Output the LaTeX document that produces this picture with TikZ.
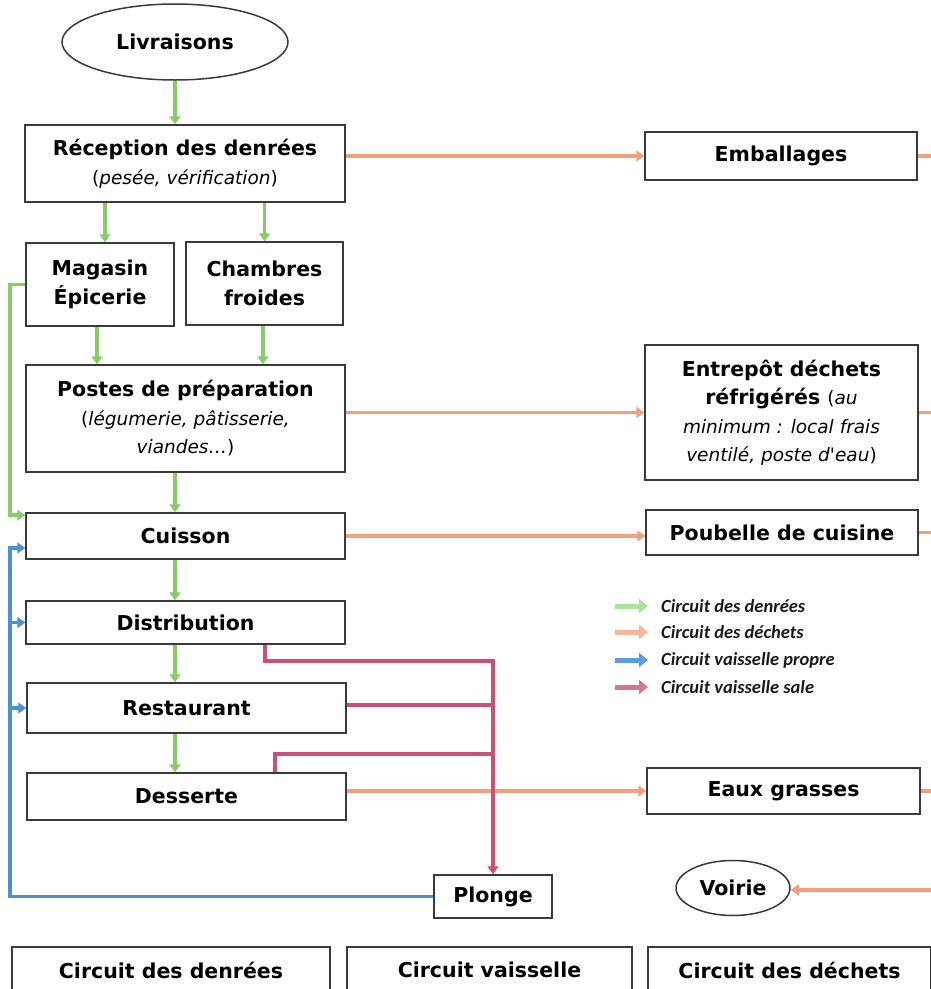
\documentclass[tikz,border=0pt]{standalone}
\usepackage{fontspec}
\setmainfont{DejaVu Sans}[Ligatures=TeXOff]
\newfontfamily\legfont{Carlito}
\usetikzlibrary{arrows.meta,shapes.geometric}
\definecolor{boxgray}{HTML}{3A3A3A}
\definecolor{denree}{HTML}{88CC66}
\definecolor{dechet}{HTML}{F2A07B}
\definecolor{propre}{HTML}{4A8FD8}
\definecolor{sale}{HTML}{CC4F77}
\definecolor{ldenree}{HTML}{A9E29A}
\definecolor{ldechet}{HTML}{F9B79A}
\definecolor{lpropre}{HTML}{5E9CE0}
\definecolor{lsale}{HTML}{D9768F}
\newcommand{\sm}{\mdseries\fontsize{18.5}{28.5}\selectfont}
\begin{document}
\begin{tikzpicture}[x=1pt,y=-1pt,
    box/.style={draw=boxgray,line width=1.5pt,fill=white,inner sep=0pt,align=center,font=\bfseries\fontsize{20.5}{28.5}\selectfont},
    oval/.style={box,ellipse},
    flow/.style={line width=3.7pt,-{Triangle[length=8pt,width=11pt]}},
    denrees/.style={flow,draw=denree},
    dechets/.style={flow,draw=dechet},
    propres/.style={flow,draw=propre},
    sales/.style={flow,draw=sale},
    legarrow/.style={line width=5pt,-{Triangle[length=9pt,width=14pt]}},
    legtext/.style={anchor=west,inner sep=0pt,text=black!90,font=\legfont\bfseries\itshape\fontsize{18.5}{20}\selectfont}]
\useasboundingbox (0,0) rectangle (931,989);

\node[oval,minimum width=226,minimum height=76] (livr) at (175,42) {Livraisons};
\node[box,minimum width=320,minimum height=77] (recep) at (185,163.5) {Réception des denrées\\ \sm(\textit{pesée, vérification})};
\node[box,minimum width=272,minimum height=48] (emb) at (781,156) {Emballages};
\node[box,minimum width=148,minimum height=83] (mag) at (100,284.5) {Magasin\\ Épicerie};
\node[box,minimum width=157,minimum height=83] (chamb) at (264.5,283.5) {Chambres\\ froides};
\node[box,minimum width=319,minimum height=107] (postes) at (185.5,418.5) {Postes de préparation\\ \sm(\textit{légumerie, pâtisserie,}\\ \sm\textit{viandes…})};
\node[box,minimum width=273,minimum height=135] (entr) at (781.5,412.5) {Entrepôt déchets\\ réfrigérés \sm(\textit{au}\\ \sm\textit{minimum : local frais}\\ \sm\textit{ventilé, poste d'eau})};
\node[box,minimum width=319,minimum height=46] (cuis) at (185.5,536) {Cuisson};
\node[box,minimum width=272,minimum height=45] (poub) at (782,532.5) {Poubelle de cuisine};
\node[box,minimum width=319,minimum height=43] (dist) at (185.5,622.5) {Distribution};
\node[box,minimum width=319,minimum height=50] (rest) at (186.5,708) {Restaurant};
\node[box,minimum width=319,minimum height=47] (dess) at (186.5,796.5) {Desserte};
\node[box,minimum width=273,minimum height=46] (eaux) at (783.5,791) {Eaux grasses};
\node[box,minimum width=118,minimum height=43] (plonge) at (493,896.5) {Plonge};
\node[oval,minimum width=114,minimum height=55] (voirie) at (733,888) {Voirie};

\node[box,minimum width=318,minimum height=46] (cdenr) at (171,970) {Circuit des denrées};
\node[box,minimum width=285,minimum height=46] (cvais) at (489.5,970) {Circuit vaisselle};
\node[box,minimum width=283,minimum height=46] (cdech) at (789.5,970) {Circuit des déchets};

\coordinate (spine) at (175,0); \coordinate (gl) at (10,0); \coordinate (edge) at (931,0);
\coordinate (rd) at (265,0); \coordinate (rv) at (493,661); \coordinate (dj) at (275,754);

\draw[denrees] (livr) to (livr |- recep.north);
\draw[denrees] (recep.south -| 105,0) to (mag.north -| 105,0); \draw[denrees] (recep.south -| chamb) to (chamb.north);
\draw[denrees] (mag.south -| 97,0) to (postes.north -| 97,0); \draw[denrees] (chamb.south -| 263,0) to (postes.north -| 263,0);
\draw[denrees] (postes.south -| spine) to (cuis.north -| spine);
\draw[denrees] (cuis.south -| spine) to (dist.north -| spine);
\draw[denrees] (dist.south -| spine) to (rest.north -| spine);
\draw[denrees] (rest.south -| spine) to (dess.north -| spine);
\draw[denrees] (mag.west) -- (mag.west -| gl) |- ([yshift=-3pt]cuis.north west);

\draw[dechets] (recep.east |- emb.west) to (emb.west); \draw[dechets,-] (emb.east) -- (emb.east -| edge);
\draw[dechets] (postes.east |- entr.west) to (entr.west); \draw[dechets,-] (entr.east) -- (entr.east -| edge);
\draw[dechets] (cuis.east) to (cuis.east -| poub.west); \draw[dechets,-] (poub.east) -- (poub.east -| edge);
\draw[dechets] (dess.east |- eaux.west) to (eaux.west); \draw[dechets,-] (eaux.east) -- (eaux.east -| edge);
\draw[dechets] ([yshift=-2pt]voirie.east -| edge) to ([yshift=-2pt]voirie.east);

\draw[propres] (plonge.west) -- (plonge.west -| gl) |- ([yshift=-12pt]cuis.west);
\draw[propres] (dist.west -| gl) to (dist.west); \draw[propres] (rest.west -| gl) to (rest.west);

\draw[sales] (dist.south -| rd) |- (rv) to (rv |- plonge.north);
\draw[sales,-] ([yshift=3pt]rest.east) -- ([yshift=3pt]rest.east -| rv);
\draw[sales,-] (dess.north -| dj) -- (dj) -- (dj -| rv);

\node[legtext] (lg1) at (661,606) {Circuit des denrées}; \node[legtext] (lg2) at (661,632) {Circuit des déchets};
\node[legtext] (lg3) at (661,660) {Circuit vaisselle propre}; \node[legtext] (lg4) at (661,687) {Circuit vaisselle sale};
\coordinate (lk1) at (615,606); \coordinate (lk2) at (615,632); \coordinate (lk3) at (615,660); \coordinate (lk4) at (615,687);
\draw[legarrow,draw=ldenree] (lk1) to ([xshift=-13pt]lg1.west);
\draw[legarrow,draw=ldechet] (lk2) to ([xshift=-13pt]lg2.west);
\draw[legarrow,draw=lpropre] (lk3) to ([xshift=-13pt]lg3.west);
\draw[legarrow,draw=lsale] (lk4) to ([xshift=-13pt]lg4.west);
\end{tikzpicture}
\end{document}
